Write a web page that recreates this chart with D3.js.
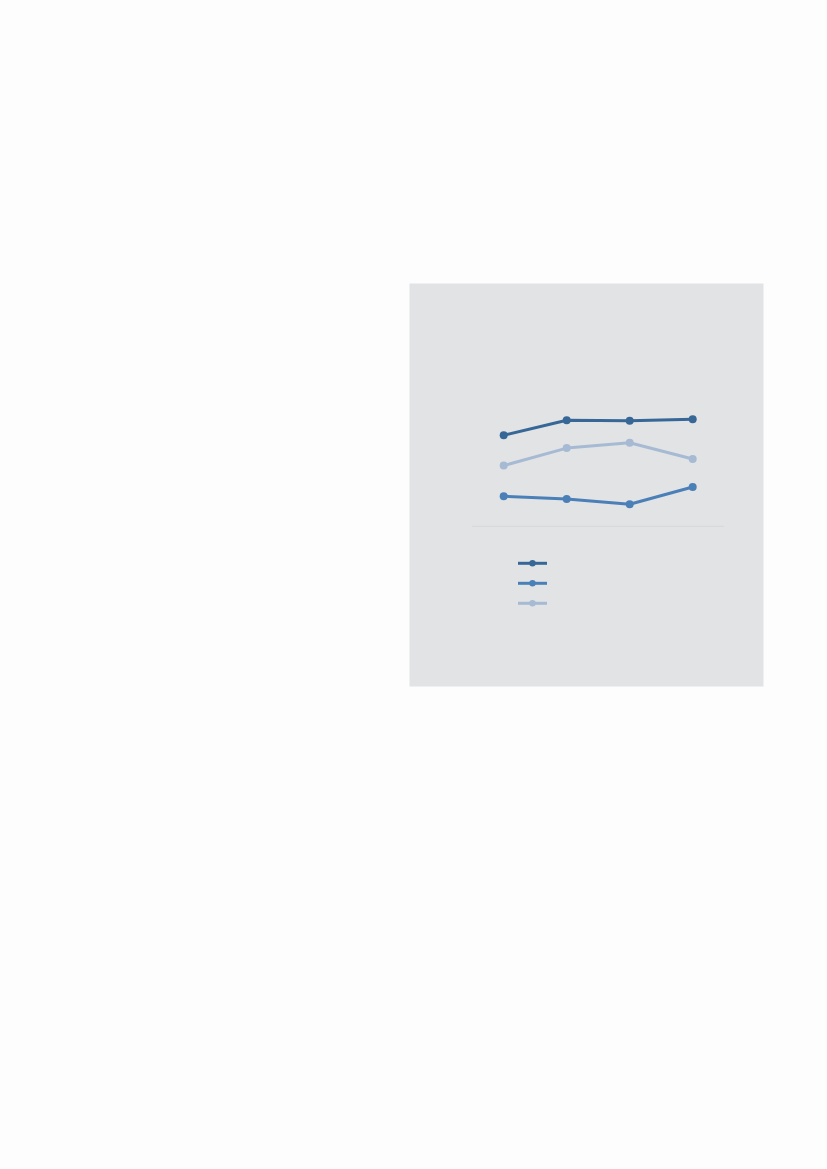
<!DOCTYPE html>
<html>
<head>
<meta charset="utf-8">
<script src="https://cdn.jsdelivr.net/npm/d3@7"></script>
<style>
  html, body { margin: 0; padding: 0; background: #fdfdfd; }
  svg { display: block; }
</style>
</head>
<body>
<svg id="chart" width="827" height="1169"></svg>
<script>
// chart data
const categories = ["Q1", "Q2", "Q3", "Q4"];
const seriesNames = ["Series A", "Series B", "Series C"];
const seriesA = [37.5, 43.7, 43.5, 44.1];
const seriesB = [12.4, 11.2, 9.1, 16.2];
const seriesC = [25.0, 32.2, 34.4, 27.7];
const seriesColors = ["#376797", "#4a80b7", "#a7bad4"];

const series = [seriesA, seriesB, seriesC].map((values, i) => ({
    name: seriesNames[i],
    color: seriesColors[i],
    values: values.map((v, j) => ({ cat: categories[j], value: v }))
}));

const svg = d3.select("#chart");

// grey panel
svg.append("rect")
    .attr("x", 409.5)
    .attr("y", 283.5)
    .attr("width", 354)
    .attr("height", 403)
    .attr("fill", "#e2e3e5");

const xScale = d3.scalePoint()
    .domain(categories)
    .range([503.7, 692.7]);

const yScale = d3.scaleLinear()
    .domain([0, 100])
    .range([526.3, 283.5]);

// baseline
svg.append("line")
    .attr("x1", 472)
    .attr("x2", 724)
    .attr("y1", yScale(0))
    .attr("y2", yScale(0))
    .attr("stroke", "#d6d7da")
    .attr("stroke-width", 1);

const line = d3.line()
    .x(d => xScale(d.cat))
    .y(d => yScale(d.value));

const g = svg.append("g");

series.forEach(s => {
    g.append("path")
        .datum(s.values)
        .attr("d", line)
        .attr("fill", "none")
        .attr("stroke", s.color)
        .attr("stroke-width", 3)
        .attr("stroke-linejoin", "round");

    g.selectAll(null)
        .data(s.values)
        .enter().append("circle")
        .attr("cx", d => xScale(d.cat))
        .attr("cy", d => yScale(d.value))
        .attr("r", 4)
        .attr("fill", s.color);
});

// legend (labels not visible in reference)
const legend = svg.append("g")
    .attr("transform", "translate(518, 563.3)");

series.forEach((s, i) => {
    const row = legend.append("g")
        .attr("transform", `translate(0, ${i * 20})`);
    row.append("line")
        .attr("x1", 0)
        .attr("x2", 29)
        .attr("stroke", s.color)
        .attr("stroke-width", 3);
    row.append("circle")
        .attr("cx", 14.5)
        .attr("r", 3.2)
        .attr("fill", s.color);
});
</script>
</body>
</html>
